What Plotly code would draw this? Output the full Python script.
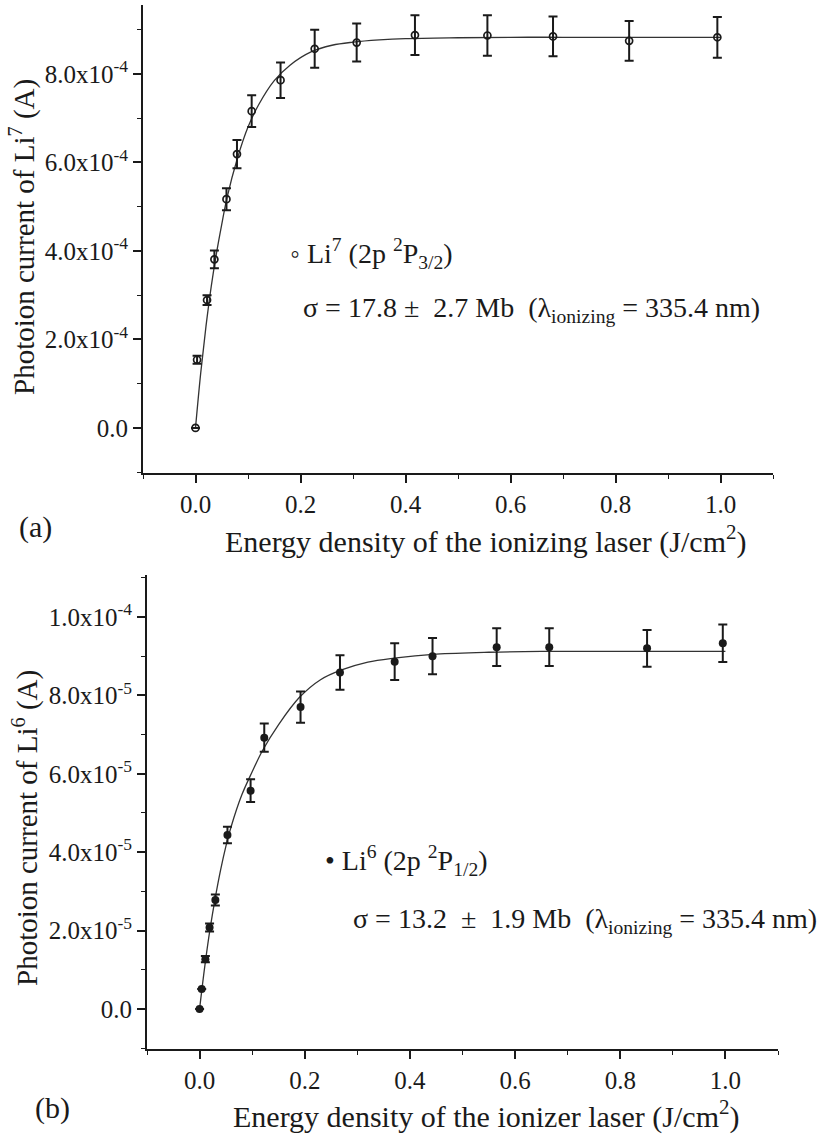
import plotly.graph_objects as go

# ---------------- data ----------------
# (a) Li7
li7_x = [0.0, 0.003, 0.022, 0.036, 0.059, 0.079, 0.107, 0.162, 0.227, 0.307, 0.418, 0.556, 0.681, 0.826, 0.994]
li7_y = [0.0, 1.54e-4, 2.89e-4, 3.81e-4, 5.17e-4, 6.19e-4, 7.16e-4, 7.86e-4, 8.57e-4, 8.71e-4, 8.88e-4, 8.87e-4, 8.85e-4, 8.75e-4, 8.83e-4]
li7_err = [0.0, 0.9e-5, 1.1e-5, 2.0e-5, 2.5e-5, 3.2e-5, 3.6e-5, 4.0e-5, 4.3e-5, 4.3e-5, 4.5e-5, 4.6e-5, 4.5e-5, 4.5e-5, 4.6e-5]
li7_fit_x = [0.0, 0.01, 0.02, 0.03, 0.04, 0.05, 0.06, 0.08, 0.10, 0.12, 0.15, 0.18, 0.22, 0.26, 0.30, 0.35, 0.40, 0.50, 0.60, 0.70, 0.80, 0.90, 1.0]
li7_fit_y = [0.0, 1.25e-4, 2.3e-4, 3.2e-4, 3.95e-4, 4.6e-4, 5.2e-4, 6.1e-4, 6.8e-4, 7.3e-4, 7.85e-4, 8.2e-4, 8.5e-4, 8.65e-4, 8.72e-4, 8.77e-4, 8.8e-4, 8.82e-4, 8.83e-4, 8.83e-4, 8.83e-4, 8.83e-4, 8.83e-4]

# (b) Li6
li6_x = [0.0, 0.004, 0.011, 0.019, 0.030, 0.053, 0.097, 0.123, 0.192, 0.267, 0.371, 0.443, 0.565, 0.665, 0.851, 0.995]
li6_y = [0.0, 5.1e-6, 1.27e-5, 2.08e-5, 2.78e-5, 4.44e-5, 5.57e-5, 6.92e-5, 7.70e-5, 8.58e-5, 8.86e-5, 9.0e-5, 9.23e-5, 9.23e-5, 9.2e-5, 9.33e-5]
li6_err = [0.0, 0.0, 0.8e-6, 1.0e-6, 1.4e-6, 2.1e-6, 2.9e-6, 3.6e-6, 4.0e-6, 4.4e-6, 4.7e-6, 4.6e-6, 4.8e-6, 4.8e-6, 4.7e-6, 4.8e-6]
li6_fit_x = [0.0, 0.01, 0.02, 0.03, 0.04, 0.05, 0.06, 0.08, 0.10, 0.12, 0.15, 0.19, 0.23, 0.27, 0.32, 0.37, 0.45, 0.55, 0.65, 0.80, 1.0]
li6_fit_y = [0.0, 1.1e-5, 2.05e-5, 2.85e-5, 3.55e-5, 4.15e-5, 4.65e-5, 5.45e-5, 6.05e-5, 6.6e-5, 7.25e-5, 7.95e-5, 8.4e-5, 8.65e-5, 8.85e-5, 8.95e-5, 9.05e-5, 9.1e-5, 9.12e-5, 9.12e-5, 9.12e-5]

# tick labels
x_tickvals = [0.0, 0.2, 0.4, 0.6, 0.8, 1.0]
x_ticktext = ["0.0", "0.2", "0.4", "0.6", "0.8", "1.0"]
y7_tickvals = [0.0, 2e-4, 4e-4, 6e-4, 8e-4]
y7_ticktext = ["0.0", "2.0x10<sup>-4</sup>", "4.0x10<sup>-4</sup>", "6.0x10<sup>-4</sup>", "8.0x10<sup>-4</sup>"]
y6_tickvals = [0.0, 2e-5, 4e-5, 6e-5, 8e-5, 1e-4]
y6_ticktext = ["0.0", "2.0x10<sup>-5</sup>", "4.0x10<sup>-5</sup>", "6.0x10<sup>-5</sup>", "8.0x10<sup>-5</sup>", "1.0x10<sup>-4</sup>"]

W, H = 838, 1135
FONT = "Liberation Serif"
INK = "#1a1a1a"

def px(xp):
    return xp / W

def py(yp):
    return 1 - yp / H

fig = go.Figure()

# ---- (a) ----
fig.add_trace(go.Scatter(x=li7_fit_x, y=li7_fit_y, mode="lines",
                         line=dict(color="#333333", width=1.3, shape="spline"),
                         xaxis="x", yaxis="y", showlegend=False, hoverinfo="skip"))
fig.add_trace(go.Scatter(x=li7_x, y=li7_y, mode="markers",
                         marker=dict(symbol="circle-open", size=7, color=INK, line=dict(width=1.7, color=INK)),
                         error_y=dict(type="data", array=li7_err, visible=True, color=INK, thickness=2, width=4.5),
                         xaxis="x", yaxis="y", showlegend=False))

# ---- (b) ----
fig.add_trace(go.Scatter(x=li6_fit_x, y=li6_fit_y, mode="lines",
                         line=dict(color="#333333", width=1.3, shape="spline"),
                         xaxis="x2", yaxis="y2", showlegend=False, hoverinfo="skip"))
fig.add_trace(go.Scatter(x=li6_x, y=li6_y, mode="markers",
                         marker=dict(symbol="circle", size=8, color=INK),
                         error_y=dict(type="data", array=li6_err, visible=True, color=INK, thickness=2, width=4.5),
                         xaxis="x2", yaxis="y2", showlegend=False))

axis_common = dict(showgrid=False, zeroline=False, showline=True, linecolor=INK, linewidth=2,
                   ticks="outside", ticklen=8, tickwidth=1.6, tickcolor=INK,
                   tickfont=dict(family=FONT, size=25, color=INK), mirror=False)

fig.update_layout(
    width=W, height=H,
    margin=dict(l=0, r=0, t=0, b=0),
    paper_bgcolor="white", plot_bgcolor="white",
    font=dict(family=FONT, color=INK),
    xaxis=dict(domain=[px(143), px(773)], range=[-0.1, 1.1], anchor="y",
               tickmode="array", tickvals=x_tickvals, ticktext=x_ticktext,
               minor=dict(dtick=0.1, tick0=-0.1, ticks="outside", ticklen=4, tickwidth=1.4, tickcolor=INK),
               **axis_common),
    yaxis=dict(domain=[py(473), py(5)], range=[-1.02e-4, 9.56e-4], anchor="x",
               tickmode="array", tickvals=y7_tickvals, ticktext=y7_ticktext,
               minor=dict(dtick=1e-4, tick0=-1e-4, ticks="outside", ticklen=4, tickwidth=1.4, tickcolor=INK),
               **axis_common),
    xaxis2=dict(domain=[px(147), px(778)], range=[-0.1, 1.1], anchor="y2",
                tickmode="array", tickvals=x_tickvals, ticktext=x_ticktext,
                minor=dict(dtick=0.1, tick0=-0.1, ticks="outside", ticklen=4, tickwidth=1.4, tickcolor=INK),
                **axis_common),
    yaxis2=dict(domain=[py(1049), py(575)], range=[-1.02e-5, 1.107e-4], anchor="x2",
                tickmode="array", tickvals=y6_tickvals, ticktext=y6_ticktext,
                minor=dict(dtick=1e-5, tick0=-1e-5, ticks="outside", ticklen=4, tickwidth=1.4, tickcolor=INK),
                **axis_common),
)

def ann(text, x, y, size=28, xanchor="left", angle=0):
    fig.add_annotation(text=text, x=px(x), y=py(y), xref="paper", yref="paper",
                       xanchor=xanchor, yanchor="middle", showarrow=False, textangle=angle,
                       font=dict(family=FONT, size=size, color=INK))

# (a) texts
ann("◦ Li<sup>7</sup> (2p <sup>2</sup>P<sub>3/2</sub>)", 288, 253)
ann("σ = 17.8 ±  2.7 Mb  (λ<sub>ionizing</sub> = 335.4 nm)", 301, 309)
ann("Energy density of the ionizing laser (J/cm<sup>2</sup>)", 486, 539, size=30, xanchor="center")
ann("Photoion current of Li<sup>7</sup> (A)", 22, 237, size=29, xanchor="center", angle=-90)
ann("(a)", 35, 527, size=30, xanchor="center")

# (b) texts
ann("• Li<sup>6</sup> (2p <sup>2</sup>P<sub>1/2</sub>)", 323, 860)
ann("σ = 13.2  ±  1.9 Mb  (λ<sub>ionizing</sub> = 335.4 nm)", 351, 920)
ann("Energy density of the ionizer laser (J/cm<sup>2</sup>)", 486, 1114, size=30, xanchor="center")
ann("Photoion current of Li<sup>6</sup> (A)", 25, 828, size=29, xanchor="center", angle=-90)
ann("(b)", 52, 1108, size=30, xanchor="center")

fig.write_html("out.html")
